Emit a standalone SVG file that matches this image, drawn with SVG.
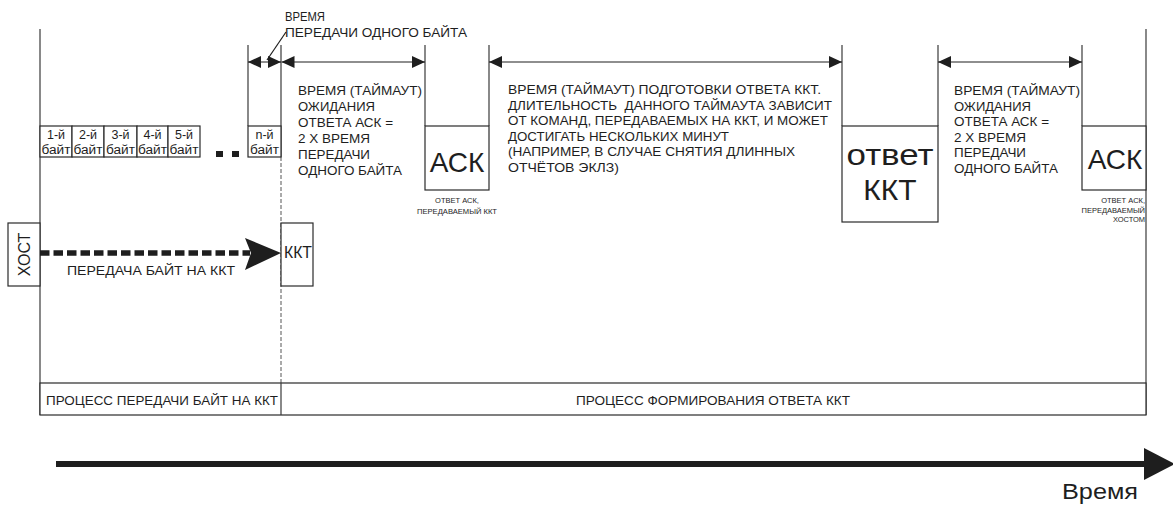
<svg xmlns="http://www.w3.org/2000/svg" width="1173" height="507" viewBox="0 0 1173 507">
<style>
.ln{stroke:#3a3a3a;stroke-width:1.2;fill:none}
.bx{stroke:#2a2a2a;stroke-width:1.2;fill:#fff}
.t{font-family:"Liberation Sans",Arial,sans-serif;fill:#1e1e1e}
.s13{font-size:13.5px}
.s12{font-size:12.5px}
.s7{font-size:7.5px}
.dim{stroke:#1e1e1e;stroke-width:1.2;fill:none}
</style>
<defs>
<marker id="ah" viewBox="0 0 13 12" refX="13" refY="6" markerWidth="13" markerHeight="12" markerUnits="userSpaceOnUse" orient="auto-start-reverse">
<path d="M0,0 L13,6 L0,12 Z" fill="#1e1e1e"/>
</marker>
</defs>
<rect width="1173" height="507" fill="#fff"/>

<g id="frame">
<line class="ln" x1="40" y1="29" x2="40" y2="415"/>
<line class="ln" x1="1146" y1="29" x2="1146" y2="415"/>
<line class="ln" x1="248" y1="45" x2="248" y2="126"/>
<line class="ln" x1="281" y1="45" x2="281" y2="157"/>
<line x1="281" y1="157" x2="281" y2="383" stroke="#555" stroke-width="1" stroke-dasharray="4 2"/>
<line class="ln" x1="425" y1="45" x2="425" y2="126"/>
<line class="ln" x1="489" y1="45" x2="489" y2="126"/>
<line class="ln" x1="842" y1="45" x2="842" y2="126"/>
<line class="ln" x1="938" y1="45" x2="938" y2="126"/>
<line class="ln" x1="1082" y1="45" x2="1082" y2="126"/>
</g>

<g id="bytes">
<rect class="bx" x="40" y="126" width="32" height="31"/>
<rect class="bx" x="72" y="126" width="32" height="31"/>
<rect class="bx" x="104" y="126" width="33" height="31"/>
<rect class="bx" x="137" y="126" width="31" height="31"/>
<rect class="bx" x="168" y="126" width="32" height="31"/>
<rect class="bx" x="248" y="126" width="33" height="31"/>
<g class="t s12" text-anchor="middle">
<text x="56" y="138.5">1-й</text><text x="56" y="154" textLength="29" lengthAdjust="spacingAndGlyphs">байт</text>
<text x="88" y="138.5">2-й</text><text x="88" y="154" textLength="29" lengthAdjust="spacingAndGlyphs">байт</text>
<text x="120.5" y="138.5">3-й</text><text x="120.5" y="154" textLength="29" lengthAdjust="spacingAndGlyphs">байт</text>
<text x="152.5" y="138.5">4-й</text><text x="152.5" y="154" textLength="29" lengthAdjust="spacingAndGlyphs">байт</text>
<text x="184" y="138.5">5-й</text><text x="184" y="154" textLength="29" lengthAdjust="spacingAndGlyphs">байт</text>
<text x="264.5" y="138.5">n-й</text><text x="264.5" y="154" textLength="29" lengthAdjust="spacingAndGlyphs">байт</text>
</g>
<rect x="216" y="151" width="7" height="6" fill="#1e1e1e"/>
<rect x="232" y="151" width="7" height="6" fill="#1e1e1e"/>
</g>

<g id="ack1">
<rect class="bx" x="425" y="126" width="64" height="64"/>
<text class="t" x="457" y="172" font-size="28" text-anchor="middle">АСК</text>
<text class="t s7" x="457" y="203" text-anchor="middle">ОТВЕТ АСК,</text>
<text class="t s7" x="457" y="214" text-anchor="middle" textLength="80" lengthAdjust="spacingAndGlyphs">ПЕРЕДАВАЕМЫЙ ККТ</text>
</g>

<g id="otvet">
<rect class="bx" x="842" y="126" width="96" height="96"/>
<text class="t" x="890" y="165" font-size="30" text-anchor="middle" textLength="87" lengthAdjust="spacingAndGlyphs">ответ</text>
<text class="t" x="890" y="200" font-size="30" text-anchor="middle">ККТ</text>
</g>

<g id="ack2">
<rect class="bx" x="1082" y="126" width="64" height="64"/>
<text class="t" x="1115" y="169" font-size="28" text-anchor="middle">АСК</text>
<g class="t s7" text-anchor="end">
<text x="1145" y="203">ОТВЕТ АСК,</text>
<text x="1145" y="212.5">ПЕРЕДАВАЕМЫЙ</text>
<text x="1145" y="222">ХОСТОМ</text>
</g>
</g>

<g id="host">
<rect class="bx" x="8" y="223" width="32" height="63"/>
<text class="t" x="0" y="0" font-size="16" text-anchor="middle" transform="translate(30,254.5) rotate(-90)">ХОСТ</text>
</g>

<g id="kkt">
<rect class="bx" x="281" y="223" width="32" height="63"/>
<text class="t" x="284" y="258" font-size="16" textLength="28" lengthAdjust="spacingAndGlyphs">ККТ</text>
</g>

<g id="connectors">
<line class="dim" x1="248" y1="62" x2="281" y2="62" marker-start="url(#ah)" marker-end="url(#ah)"/>
<line class="dim" x1="267" y1="60" x2="286" y2="32"/>
<line class="dim" x1="281.5" y1="62" x2="425" y2="62" marker-start="url(#ah)" marker-end="url(#ah)"/>
<line class="dim" x1="489" y1="62" x2="842" y2="62" marker-start="url(#ah)" marker-end="url(#ah)"/>
<line class="dim" x1="938" y1="62" x2="1082" y2="62" marker-start="url(#ah)" marker-end="url(#ah)"/>
<line x1="40" y1="253" x2="250" y2="253" stroke="#1e1e1e" stroke-width="5.5" stroke-dasharray="9.5 4"/>
<path d="M245,238 L281,253 L245,270 L251,253 Z" fill="#1e1e1e"/>
<line x1="56" y1="464" x2="1146" y2="464" stroke="#1e1e1e" stroke-width="6"/>
<path d="M1144,448 L1175,464 L1144,480 Z" fill="#1e1e1e"/>
</g>

<g id="labels" class="t s13">
<text x="285" y="21" textLength="40" lengthAdjust="spacingAndGlyphs">ВРЕМЯ</text>
<text x="285" y="37" textLength="182" lengthAdjust="spacingAndGlyphs">ПЕРЕДАЧИ ОДНОГО БАЙТА</text>

<text x="298" y="95" textLength="124" lengthAdjust="spacingAndGlyphs">ВРЕМЯ (ТАЙМАУТ)</text>
<text x="298" y="111" textLength="77" lengthAdjust="spacingAndGlyphs">ОЖИДАНИЯ</text>
<text x="298" y="127" textLength="95" lengthAdjust="spacingAndGlyphs">ОТВЕТА АСК =</text>
<text x="298" y="143" textLength="72" lengthAdjust="spacingAndGlyphs">2 Х ВРЕМЯ</text>
<text x="298" y="159" textLength="72" lengthAdjust="spacingAndGlyphs">ПЕРЕДАЧИ</text>
<text x="298" y="175" textLength="104" lengthAdjust="spacingAndGlyphs">ОДНОГО БАЙТА</text>

<text x="508" y="94" textLength="313" lengthAdjust="spacingAndGlyphs">ВРЕМЯ (ТАЙМАУТ) ПОДГОТОВКИ ОТВЕТА ККТ.</text>
<text x="508" y="109.5" textLength="324" lengthAdjust="spacingAndGlyphs" xml:space="preserve">ДЛИТЕЛЬНОСТЬ  ДАННОГО ТАЙМАУТА ЗАВИСИТ</text>
<text x="508" y="125" textLength="320" lengthAdjust="spacingAndGlyphs">ОТ КОМАНД, ПЕРЕДАВАЕМЫХ НА ККТ, И МОЖЕТ</text>
<text x="508" y="140.5" textLength="221" lengthAdjust="spacingAndGlyphs">ДОСТИГАТЬ НЕСКОЛЬКИХ МИНУТ</text>
<text x="508" y="156" textLength="287" lengthAdjust="spacingAndGlyphs">(НАПРИМЕР, В СЛУЧАЕ СНЯТИЯ ДЛИННЫХ</text>
<text x="508" y="171.5" textLength="111" lengthAdjust="spacingAndGlyphs">ОТЧЁТОВ ЭКЛЗ)</text>

<text x="954" y="95" textLength="126" lengthAdjust="spacingAndGlyphs">ВРЕМЯ (ТАЙМАУТ)</text>
<text x="954" y="110.5" textLength="77" lengthAdjust="spacingAndGlyphs">ОЖИДАНИЯ</text>
<text x="954" y="126" textLength="95" lengthAdjust="spacingAndGlyphs">ОТВЕТА АСК =</text>
<text x="954" y="141.5" textLength="72" lengthAdjust="spacingAndGlyphs">2 Х ВРЕМЯ</text>
<text x="954" y="157" textLength="72" lengthAdjust="spacingAndGlyphs">ПЕРЕДАЧИ</text>
<text x="954" y="172.5" textLength="104" lengthAdjust="spacingAndGlyphs">ОДНОГО БАЙТА</text>

<text class="s12" x="67" y="275" textLength="168" lengthAdjust="spacingAndGlyphs">ПЕРЕДАЧА БАЙТ НА ККТ</text>
</g>

<g id="process">
<rect class="bx" x="40" y="383" width="1106" height="32" fill="none"/>
<line class="ln" x1="281" y1="383" x2="281" y2="415"/>
<text class="t s12" x="46" y="405" textLength="232" lengthAdjust="spacingAndGlyphs">ПРОЦЕСС ПЕРЕДАЧИ БАЙТ НА ККТ</text>
<text class="t s12" x="713" y="405" text-anchor="middle" textLength="274" lengthAdjust="spacingAndGlyphs">ПРОЦЕСС ФОРМИРОВАНИЯ ОТВЕТА ККТ</text>
</g>

<text class="t" x="1100" y="499" font-size="22" text-anchor="middle" textLength="76" lengthAdjust="spacingAndGlyphs">Время</text>
</svg>
